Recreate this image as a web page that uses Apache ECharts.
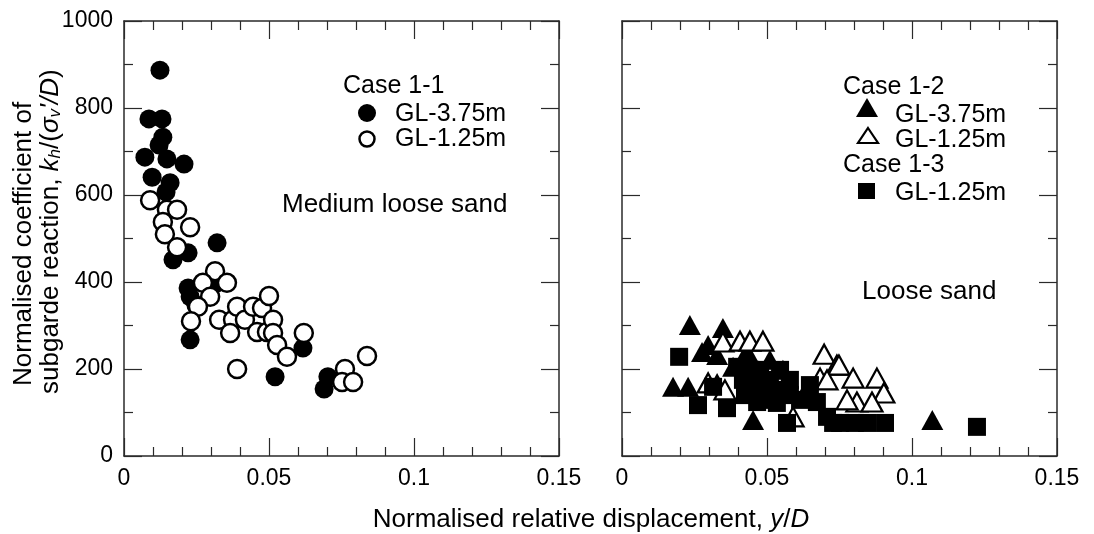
<!DOCTYPE html>
<html><head><meta charset="utf-8">
<script src="https://cdn.jsdelivr.net/npm/echarts@6/dist/echarts.min.js"></script>
<style>html,body{margin:0;padding:0;background:#fff}#c{width:1094px;height:534px}</style>
</head><body><div id="c"></div>
<script>
// Case 1-1 (Medium loose sand) : [y/D, kh/(sv'/D)]
const case11_GL375 = [
 [0.0124,887],[0.0086,775],[0.0131,775],[0.0134,733],[0.0121,715],[0.0072,687],[0.0148,683],
 [0.0207,671],[0.0097,641],[0.0159,628],[0.0145,607],[0.0169,451],[0.0221,467],[0.0321,490],
 [0.0221,386],[0.0228,366],[0.0248,347],[0.0321,398],[0.0228,267],[0.0521,182],[0.0617,248],
 [0.0703,182],[0.0690,154]
];
const case11_GL125 = [
 [0.0090,588],[0.0148,566],[0.0183,566],[0.0134,538],[0.0228,526],[0.0141,510],[0.0183,480],
 [0.0314,425],[0.0272,398],[0.0355,398],[0.0297,366],[0.0255,343],[0.0231,310],[0.0328,313],
 [0.0376,313],[0.0390,343],[0.0366,283],[0.0417,313],[0.0445,343],[0.0476,340],[0.0500,368],
 [0.0459,285],[0.0493,285],[0.0514,313],[0.0514,283],[0.0528,255],[0.0562,228],[0.0620,283],
 [0.0390,200],[0.0762,200],[0.0752,170],[0.0790,170],[0.0838,230]
];
// Case 1-2 / 1-3 (Loose sand)
const case12_GL375 = [
 [0.0234,301],[0.0348,294],[0.0176,159],[0.0228,159],[0.0297,255],[0.0276,239],[0.0328,232],
 [0.0452,83],[0.0555,198],[0.0383,205],[0.0328,168],[0.1070,83],[0.0440,230],[0.0480,190],
 [0.0424,232],[0.0510,221],[0.0459,186]
];
const case12_GL125 = [
 [0.0348,262],[0.0407,264],[0.0441,264],[0.0486,264],[0.0697,234],[0.0741,209],[0.0683,179],
 [0.0638,152],[0.0590,90],[0.0297,168],[0.0355,152],[0.0748,209],[0.0797,179],[0.0879,179],
 [0.0903,145],[0.0810,124],[0.0862,124],[0.0776,129],[0.0707,175]
];
const case13_GL125 = [
 [0.0197,228],[0.0262,117],[0.0362,110],[0.0314,159],[0.0466,124],[0.0569,76],[0.0534,122],
 [0.0672,124],[0.0728,76],[0.0417,175],[0.0500,159],[0.0397,205],[0.0707,90],[0.0752,76],
 [0.0803,76],[0.0845,76],[0.0907,76],[0.1224,67],[0.0476,198],[0.0510,175],[0.0579,140],
 [0.0441,152],[0.0614,129],[0.0648,163],[0.0534,152],[0.0441,198],[0.0493,163],[0.0545,198],
 [0.0476,129],[0.0424,140],[0.0579,175]
];
const xMin = 0, xMax = 0.15, xStep = 0.05;
const yMin = 0, yMax = 1000, yStep = 200;

const FONT = "'Liberation Sans', Arial, sans-serif";
const AX = '#2a2a2a';
const lineStyle = {color: AX, width: 1.5};

function xAx(grid, pos, showLabel){
  return {gridIndex: grid, type:'value', position: pos, min:xMin, max:xMax, interval:xStep,
    axisLine:{show:true, onZero:false, lineStyle},
    axisTick:{show:true, inside:true, length:18, lineStyle:{color:AX,width:1.2}},
    minorTick:{show:true, splitNumber:5, length:9, lineStyle:{color:AX,width:1.2}},
    splitLine:{show:false},
    axisLabel:{show:showLabel, color:'#000', fontSize:23, fontFamily:FONT, margin:11,
      formatter: v => String(+v.toFixed(3))}};
}
function yAx(grid, pos, showLabel){
  return {gridIndex: grid, type:'value', position: pos, min:yMin, max:yMax, interval:yStep,
    axisLine:{show:true, onZero:false, lineStyle},
    axisTick:{show:true, inside:true, length:18, lineStyle:{color:AX,width:1.2}},
    minorTick:{show:true, splitNumber:2, length:9, lineStyle:{color:AX,width:1.2}},
    splitLine:{show:false},
    axisLabel:{show:showLabel, color:'#000', fontSize:23, fontFamily:FONT, margin:11,
      formatter: v => String(v)}};
}

const chart = echarts.init(document.getElementById('c'), null, {renderer:'canvas'});
const filled = {color:'#000', opacity:1};
const open = {color:'#fff', borderColor:'#000', borderWidth:2.5, opacity:1};

function txt(x, y, s, size){
  return {type:'text', x, y, style:{text:s, fill:'#000', fontSize:size||25, fontFamily:FONT, textVerticalAlign:'middle', textAlign:'left'}};
}

chart.setOption({
  animation:false,
  backgroundColor:'#fff',
  grid:[
    {left:124, top:21, width:435, height:435},
    {left:622, top:21, width:435, height:435}
  ],
  xAxis:[xAx(0,'bottom',true), xAx(0,'top',false), xAx(1,'bottom',true), xAx(1,'top',false)],
  yAxis:[yAx(0,'left',true), yAx(0,'right',false), yAx(1,'left',false), yAx(1,'right',false)],
  series:[
    {type:'scatter', xAxisIndex:0, yAxisIndex:0, data:case11_GL375, symbol:'circle', symbolSize:19, itemStyle:filled},
    {type:'scatter', xAxisIndex:0, yAxisIndex:0, data:case11_GL125, symbol:'circle', symbolSize:18, itemStyle:open},
    {type:'scatter', xAxisIndex:2, yAxisIndex:2, data:case12_GL375, symbol:'triangle', symbolSize:[22,20], itemStyle:filled},
    {type:'scatter', xAxisIndex:2, yAxisIndex:2, data:case12_GL125, symbol:'triangle', symbolSize:[21,19], itemStyle:{color:'#fff', borderColor:'#000', borderWidth:2.2, opacity:1}},
    {type:'scatter', xAxisIndex:2, yAxisIndex:2, data:case13_GL125, symbol:'rect', symbolSize:18, itemStyle:filled}
  ],
  graphic:[
    txt(343, 86, 'Case 1-1'),
    {type:'circle', shape:{cx:367, cy:113, r:9}, style:{fill:'#000'}},
    txt(395, 114, 'GL-3.75m'),
    {type:'circle', shape:{cx:367, cy:139, r:7.5}, style:{fill:'#fff', stroke:'#000', lineWidth:2.5}},
    txt(395, 139, 'GL-1.25m'),
    txt(282, 205, 'Medium loose sand', 26),
    txt(843, 87, 'Case 1-2'),
    {type:'polygon', shape:{points:[[867,98],[878,117],[856,117]]}, style:{fill:'#000'}},
    txt(895, 115, 'GL-3.75m'),
    {type:'polygon', shape:{points:[[868,128],[878,143],[858,143]]}, style:{fill:'#fff', stroke:'#000', lineWidth:2.2}},
    txt(895, 140, 'GL-1.25m'),
    txt(843, 165, 'Case 1-3'),
    {type:'rect', shape:{x:858, y:183, width:17, height:16}, style:{fill:'#000'}},
    txt(895, 193, 'GL-1.25m'),
    txt(862, 292, 'Loose sand', 26),
    {type:'text', x:591, y:520, style:{text:'Normalised relative displacement, {i|y}/{i|D}', fill:'#000', fontSize:26, fontFamily:FONT, textAlign:'center', textVerticalAlign:'middle',
      rich:{i:{fontStyle:'italic', fontSize:26, fontFamily:FONT}}}},
    {type:'text', x:24, y:386, rotation:Math.PI/2, style:{text:'Normalised coefficient of', fill:'#000', fontSize:26, fontFamily:FONT, textAlign:'left', textVerticalAlign:'middle'}},
    {type:'text', x:51, y:394, rotation:Math.PI/2, style:{text:"subgarde reaction, {i|k}{s|h}/({i|σ}{s|v}{i|'/D})", fill:'#000', fontSize:26, fontFamily:FONT, textAlign:'left', textVerticalAlign:'middle',
      rich:{i:{fontStyle:'italic', fontSize:26, fontFamily:FONT}, s:{fontStyle:'italic', fontSize:17, fontFamily:FONT, verticalAlign:'bottom', padding:[9,0,0,0]}}}}
  ]
});
</script></body></html>
